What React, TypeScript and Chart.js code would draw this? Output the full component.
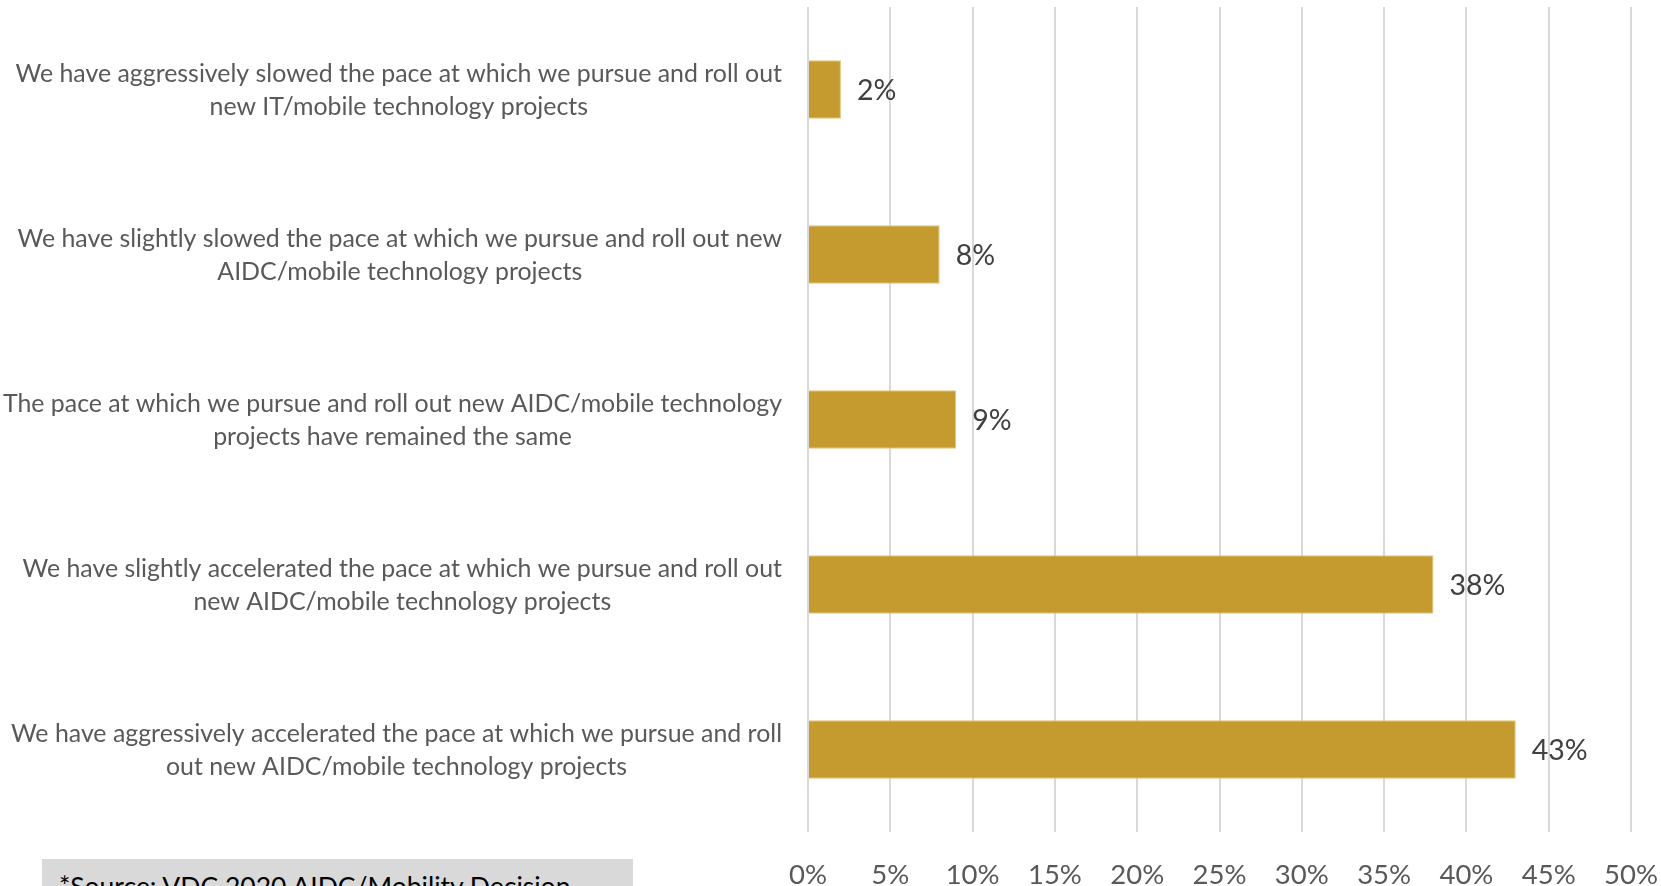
import React, { useEffect, useRef } from "react";
import { Chart, registerables } from "chart.js";

Chart.register(...registerables);

const categories: string[][] = [
  ["We have aggressively slowed the pace at which we pursue and roll out", "new IT/mobile technology projects"],
  ["We have slightly slowed the pace at which we pursue and roll out new", "AIDC/mobile technology projects"],
  ["The pace at which we pursue and roll out new AIDC/mobile technology", "projects have remained the same"],
  ["We have slightly accelerated the pace at which we pursue and roll out", "new AIDC/mobile technology projects"],
  ["We have aggressively accelerated the pace at which we pursue and roll", "out new AIDC/mobile technology projects"],
];
const values: number[] = [2, 8, 9, 38, 43];
const axisMin = 0;
const axisMax = 50;
const axisStep = 5;
const sourceText = "*Source: VDC 2020 AIDC/Mobility Decision";

const FONT = 'Lato, "Open Sans", sans-serif';
const W = 1661;
const H = 900;

const categoryLabelPlugin = {
  id: "categoryLabels",
  afterDraw(chart: any) {
    const ctx = chart.ctx;
    const y = chart.scales.y;
    ctx.save();
    ctx.font = `24.9px ${FONT}`;
    ctx.fillStyle = "#595959";
    ctx.textBaseline = "middle";
    ctx.textAlign = "center";
    const right = y.right - 26;
    const lh = 33;
    categories.forEach((lines, i) => {
      const cy = y.getPixelForTick(i) + 1;
      const w = Math.max(...lines.map((l) => ctx.measureText(l).width));
      const cx = right - w / 2;
      lines.forEach((l, j) => {
        ctx.fillText(l, cx, cy + (j - (lines.length - 1) / 2) * lh);
      });
    });
    ctx.restore();
  },
};

const valueLabelPlugin = {
  id: "valueLabels",
  afterDatasetsDraw(chart: any) {
    const ctx = chart.ctx;
    const meta = chart.getDatasetMeta(0);
    ctx.save();
    ctx.font = `28.5px ${FONT}`;
    ctx.fillStyle = "#404040";
    ctx.textBaseline = "middle";
    ctx.textAlign = "left";
    meta.data.forEach((bar: any, i: number) => {
      ctx.fillText(`${values[i]}%`, bar.x + 16, bar.y + 1);
    });
    ctx.restore();
  },
};

export default function App() {
  const ref = useRef<HTMLCanvasElement | null>(null);

  useEffect(() => {
    document.body.style.margin = "0";
    if (!ref.current) return;
    const chart = new Chart(ref.current, {
      type: "bar",
      data: {
        labels: categories.map((c) => c.join(" ")),
        datasets: [
          {
            data: values,
            backgroundColor: "#C59B2F",
            borderColor: "#E2C577",
            borderWidth: 1,
            barPercentage: 0.355,
            categoryPercentage: 1,
          },
        ],
      },
      options: {
        indexAxis: "y",
        responsive: false,
        animation: false,
        layout: { padding: { top: 7, right: 30, left: 0, bottom: 0 } },
        plugins: {
          legend: { display: false },
          tooltip: { enabled: false },
        },
        scales: {
          x: {
            min: axisMin,
            max: axisMax,
            ticks: {
              stepSize: axisStep,
              callback: (v: any) => `${v}%`,
              color: "#595959",
              font: { family: FONT, size: 27.5 },
              padding: 27,
              maxRotation: 0,
              autoSkip: false,
            },
            grid: { color: "#D9D9D9", lineWidth: 2, drawTicks: false },
            border: { display: false },
            afterFit: (s: any) => {
              s.height = H - 832;
              s.paddingLeft = 0;
              s.paddingRight = 0;
            },
          },
          y: {
            ticks: { display: false },
            grid: { display: false },
            border: { display: false },
            afterFit: (s: any) => {
              s.width = 808;
            },
          },
        },
      },
      plugins: [categoryLabelPlugin, valueLabelPlugin],
    });
    return () => chart.destroy();
  }, []);

  return (
    <div style={{ position: "fixed", left: 0, top: 0, width: W, height: 886, overflow: "hidden", background: "#fff" }}>
      <canvas ref={ref} width={W} height={H} style={{ display: "block", width: W, height: H }} />
      <div
        style={{
          position: "absolute",
          left: 42,
          top: 859,
          width: 591,
          height: 60,
          background: "#D9D9D9",
          boxSizing: "border-box",
          paddingTop: 12,
          paddingLeft: 17,
          fontFamily: FONT,
          fontSize: 26.5,
          lineHeight: 1.2,
          color: "#000",
          whiteSpace: "nowrap",
        }}
      >
        {sourceText}
      </div>
    </div>
  );
}
